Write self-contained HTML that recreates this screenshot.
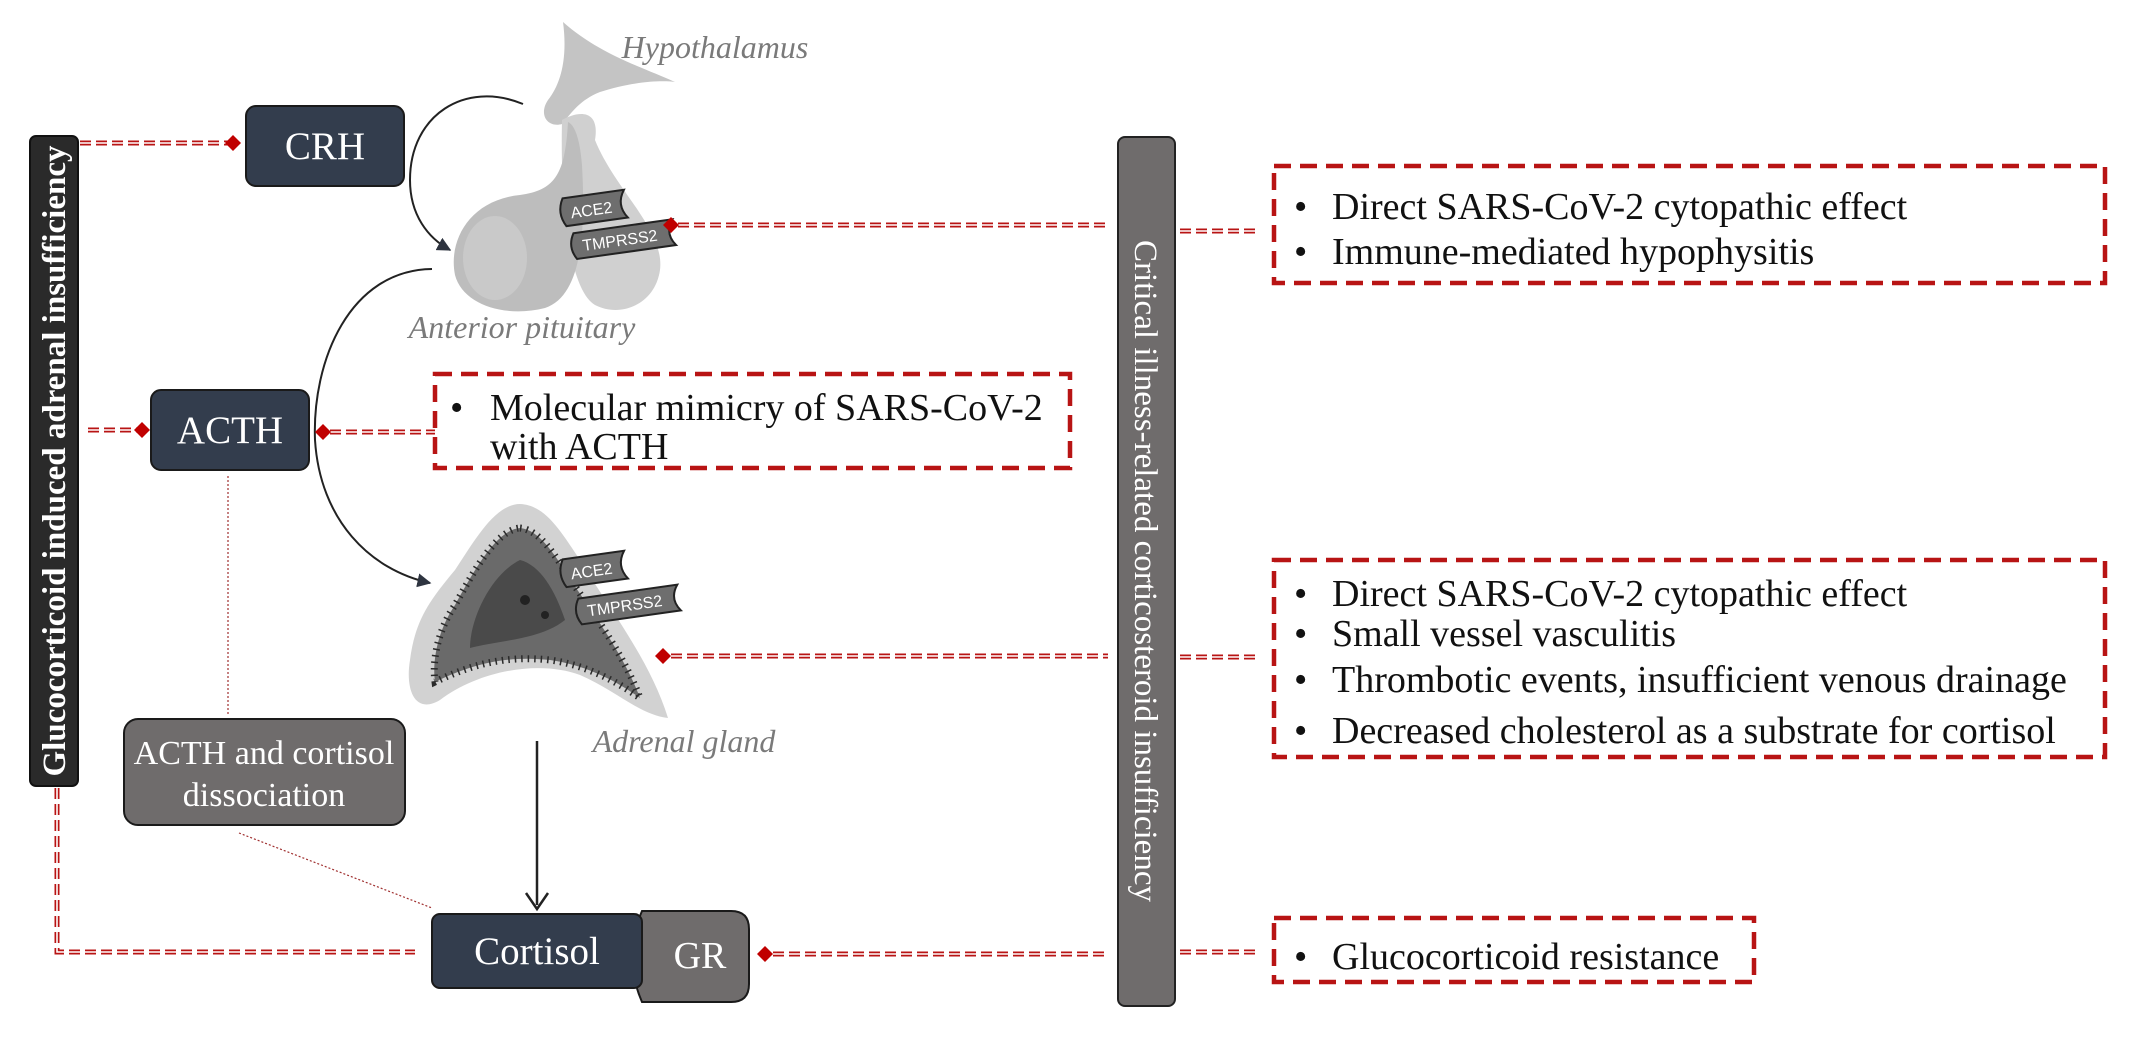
<!DOCTYPE html>
<html><head><meta charset="utf-8"><style>
html,body{margin:0;padding:0;background:#fff;overflow:hidden}
svg text{font-family:"Liberation Serif",serif}
</style></head><body>
<svg width="2132" height="1058" viewBox="0 0 2132 1058" xmlns="http://www.w3.org/2000/svg">
<defs>
<marker id="ah" viewBox="0 0 10 10" refX="9" refY="5" markerWidth="14" markerHeight="14" orient="auto" markerUnits="userSpaceOnUse"><path d="M0,0 L10,5 L0,10 z" fill="#2e3440"/></marker>
<g id="dia"><path d="M-8,0 L0,-8 L8,0 L0,8 z" fill="#c00000"/></g>
</defs>
<style>
.cr{stroke:#b81414;stroke-width:5;stroke-dasharray:11 5;fill:none}
.cw{stroke:#fff;stroke-width:1.6;stroke-dasharray:11 5;fill:none}
.db{stroke:#b81414;stroke-width:4.5;stroke-dasharray:17 9;fill:#fff}
</style>

<!-- Pituitary -->
<g>
<path d="M563,22 C568,60 560,85 548,100 C538,115 548,128 562,124 C572,112 580,100 600,92 C630,82 660,80 675,82 C645,68 600,55 563,22 z" fill="#c4c4c4"/>
<path d="M562,120 C580,110 600,110 595,140 C615,190 665,230 660,270 C655,305 620,318 595,305 C570,290 560,210 562,120z" fill="#d0d0d0"/>
<path d="M568,122 C565,175 555,190 520,195 C470,200 448,240 455,275 C463,305 505,318 545,308 C585,295 585,220 582,165 C580,140 575,125 568,122z" fill="#bdbdbd"/>
<ellipse cx="495" cy="258" rx="32" ry="42" fill="#c9c9c9"/>
<g transform="rotate(-8 610 220)">
<path d="M566,192 h62 q-10,14 0,28 h-62 q-8,-14 0,-28z" fill="#6e6e6e" stroke="#222" stroke-width="2"/>
<text x="593" y="213" font-size="16" fill="#fff" text-anchor="middle" style="font-family:'Liberation Sans',sans-serif">ACE2</text>
<path d="M572,228 h100 q-10,13 0,26 h-100 q-8,-13 0,-26z" fill="#6e6e6e" stroke="#222" stroke-width="2"/>
<text x="617" y="247" font-size="16" fill="#fff" text-anchor="middle" style="font-family:'Liberation Sans',sans-serif">TMPRSS2</text>
</g>
</g>
<text x="715" y="58" font-size="32" font-style="italic" fill="#7a7a7a" text-anchor="middle">Hypothalamus</text>
<text x="522" y="338" font-size="32" font-style="italic" fill="#7a7a7a" text-anchor="middle">Anterior pituitary</text>

<!-- Adrenal -->
<g>
<path d="M520,504 C545,505 560,530 580,560 C610,610 650,660 668,718 C640,715 615,690 580,675 C540,660 480,670 440,700 C415,715 405,690 410,660 C415,620 430,600 455,570 C475,540 495,504 520,504z" fill="#d2d2d2"/>
<path d="M520,528 C540,530 555,555 572,582 C598,620 625,658 640,698 C615,680 585,665 550,660 C505,655 470,665 435,682 C432,660 438,630 455,605 C472,575 495,530 520,528z" fill="#6a6a6a" stroke="#2a2a2a" stroke-width="7" stroke-dasharray="1.5 5"/>
<path d="M520,560 C540,565 555,590 565,620 C540,640 500,640 470,648 C470,620 490,575 520,560z" fill="#4a4a4a"/>
<circle cx="525" cy="600" r="5" fill="#222"/><circle cx="545" cy="615" r="4" fill="#222"/>
<g transform="rotate(-8 610 580)">
<path d="M566,553 h62 q-10,14 0,28 h-62 q-8,-14 0,-28z" fill="#6e6e6e" stroke="#222" stroke-width="2"/>
<text x="593" y="574" font-size="16" fill="#fff" text-anchor="middle" style="font-family:'Liberation Sans',sans-serif">ACE2</text>
<path d="M576,594 h100 q-10,13 0,26 h-100 q-8,-13 0,-26z" fill="#6e6e6e" stroke="#222" stroke-width="2"/>
<text x="621" y="613" font-size="16" fill="#fff" text-anchor="middle" style="font-family:'Liberation Sans',sans-serif">TMPRSS2</text>
</g>
</g>
<text x="684" y="752" font-size="32" font-style="italic" fill="#7a7a7a" text-anchor="middle">Adrenal gland</text>

<!-- curved arrows -->
<path d="M523,104 C465,80 410,115 410,180 C410,215 428,238 450,250" fill="none" stroke="#222" stroke-width="2" marker-end="url(#ah)"/>
<path d="M432,269 C350,270 312,360 315,440 C320,520 370,570 430,583" fill="none" stroke="#222" stroke-width="2" marker-end="url(#ah)"/>
<path d="M537,741 V905" stroke="#222" stroke-width="2.5" fill="none"/>
<path d="M526,893 L537,909 L548,893" stroke="#222" stroke-width="2.5" fill="none"/>

<!-- dotted thin lines -->
<path d="M228,476 V714" stroke="#a03030" stroke-width="1.2" stroke-dasharray="2 2"/>
<path d="M239,833 L432,908" stroke="#a03030" stroke-width="1.2" stroke-dasharray="2 2"/>

<!-- connectors -->
<g>
<path class="cr" d="M80,143 H230"/><path class="cw" d="M80,143 H230"/>
<path class="cr" d="M88,430 H140"/><path class="cw" d="M88,430 H140"/>
<path class="cr" d="M57,788 V952 H415"/><path class="cw" d="M57,788 V952 H415"/>
<path class="cr" d="M678,225 H1108"/><path class="cw" d="M678,225 H1108"/>
<path class="cr" d="M330,432 H435"/><path class="cw" d="M330,432 H435"/>
<path class="cr" d="M671,656 H1108"/><path class="cw" d="M671,656 H1108"/>
<path class="cr" d="M773,954 H1108"/><path class="cw" d="M773,954 H1108"/>
<path class="cr" d="M1180,231 H1258"/><path class="cw" d="M1180,231 H1258"/>
<path class="cr" d="M1180,657 H1258"/><path class="cw" d="M1180,657 H1258"/>
<path class="cr" d="M1180,952 H1258"/><path class="cw" d="M1180,952 H1258"/>
<use href="#dia" x="233" y="143"/>
<use href="#dia" x="142" y="430"/>
<use href="#dia" x="671" y="225"/>
<use href="#dia" x="323" y="432"/>
<use href="#dia" x="663" y="656"/>
<use href="#dia" x="765" y="954"/>
</g>

<!-- left bar -->
<rect x="30" y="136" width="48" height="650" rx="6" fill="#2a2a2a" stroke="#111" stroke-width="2"/>
<text transform="translate(65,461) rotate(-90)" font-size="33" font-weight="bold" fill="#fff" text-anchor="middle">Glucocorticoid induced adrenal insufficiency</text>

<!-- right bar -->
<rect x="1118" y="137" width="57" height="869" rx="7" fill="#6f6c6c" stroke="#222" stroke-width="2"/>
<text transform="translate(1135,571) rotate(90)" font-size="33" fill="#fff" text-anchor="middle">Critical illness-related corticosteroid insufficiency</text>

<!-- nodes -->
<rect x="246" y="106" width="158" height="80" rx="10" fill="#333d4d" stroke="#1a1a1a" stroke-width="2"/>
<text x="325" y="159" font-size="39" fill="#fff" text-anchor="middle">CRH</text>
<rect x="151" y="390" width="158" height="80" rx="10" fill="#333d4d" stroke="#1a1a1a" stroke-width="2"/>
<text x="230" y="443" font-size="39" fill="#fff" text-anchor="middle">ACTH</text>
<rect x="124" y="719" width="281" height="106" rx="14" fill="#6f6c6c" stroke="#1a1a1a" stroke-width="2"/>
<text x="264" y="764" font-size="34" fill="#fff" text-anchor="middle">ACTH and cortisol</text>
<text x="264" y="806" font-size="34" fill="#fff" text-anchor="middle">dissociation</text>
<path d="M642,911 H731 Q749,911 749,929 V984 Q749,1002 731,1002 H642 Q622,956 642,911z" fill="#6f6c6c" stroke="#1a1a1a" stroke-width="2"/>
<text x="700" y="968" font-size="38" fill="#fff" text-anchor="middle">GR</text>
<rect x="432" y="914" width="210" height="74" rx="8" fill="#333d4d" stroke="#1a1a1a" stroke-width="2"/>
<text x="537" y="964" font-size="39" fill="#fff" text-anchor="middle">Cortisol</text>

<!-- dashed boxes -->
<rect class="db" x="435" y="374" width="635" height="94"/>
<g font-size="38" fill="#111">
<text x="450" y="420">•</text>
<text x="490" y="420">Molecular mimicry of SARS-CoV-2</text>
<text x="490" y="459">with ACTH</text>
</g>

<rect class="db" x="1274" y="166" width="831" height="117"/>
<g font-size="38" fill="#111">
<text x="1294" y="219">•</text><text x="1332" y="219">Direct SARS-CoV-2 cytopathic effect</text>
<text x="1294" y="264">•</text><text x="1332" y="264">Immune-mediated hypophysitis</text>
</g>
<rect class="db" x="1274" y="560" width="831" height="197"/>
<g font-size="38" fill="#111">
<text x="1294" y="606">•</text><text x="1332" y="606">Direct SARS-CoV-2 cytopathic effect</text>
<text x="1294" y="646">•</text><text x="1332" y="646">Small vessel vasculitis</text>
<text x="1294" y="692">•</text><text x="1332" y="692">Thrombotic events, insufficient venous drainage</text>
<text x="1294" y="743">•</text><text x="1332" y="743">Decreased cholesterol as a substrate for cortisol</text>
</g>
<rect class="db" x="1274" y="918" width="480" height="64"/>
<g font-size="38" fill="#111">
<text x="1294" y="969">•</text><text x="1332" y="969">Glucocorticoid resistance</text>
</g>
</svg>
</body></html>
